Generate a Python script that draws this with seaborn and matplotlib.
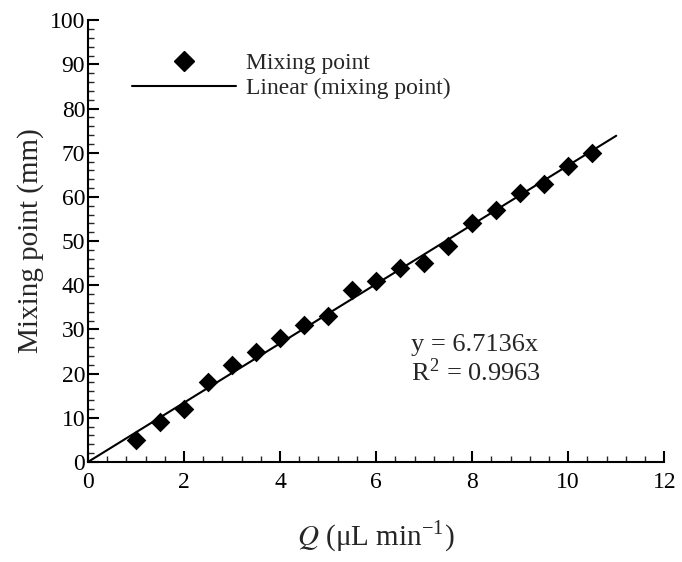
import numpy as np
import pandas as pd
import matplotlib
matplotlib.use("Agg")
import matplotlib.pyplot as plt
import seaborn as sns
from matplotlib.ticker import MultipleLocator
from matplotlib.lines import Line2D

# flow rate (uL/min) and measured mixing point (mm)
flow_rate = [1.0, 1.5, 2.0, 2.5, 3.0, 3.5, 4.0, 4.5, 5.0, 5.5,
             6.0, 6.5, 7.0, 7.5, 8.0, 8.5, 9.0, 9.5, 10.0, 10.5]
mixing_point = [5, 9, 12, 18, 22, 25, 28, 31, 33, 39,
                41, 44, 45, 49, 54, 57, 61, 63, 67, 70]
slope = 6.7136
r_squared = 0.9963
fit_x = [0.0, 11.0]

sns.set_theme(style="ticks")
plt.rcParams["font.family"] = ["Liberation Serif", "DejaVu Serif"]
plt.rcParams["mathtext.fontset"] = "stix"

df = pd.DataFrame({"Q": flow_rate, "mix": mixing_point})
fit_df = pd.DataFrame({"Q": fit_x, "mix": [slope * v for v in fit_x]})

fig = plt.figure(figsize=(6.82, 5.62), dpi=100)
ax = fig.add_axes([0.129, 0.178, 0.845, 0.786])

sns.lineplot(data=fit_df, x="Q", y="mix", color="black", linewidth=1.5, ax=ax)
sns.scatterplot(data=df, x="Q", y="mix", marker="D", s=100, color="black",
                edgecolor="black", linewidth=0, ax=ax, zorder=3)

ax.set_xlim(0, 12)
ax.set_ylim(0, 100)
ax.xaxis.set_major_locator(MultipleLocator(2))
ax.xaxis.set_minor_locator(MultipleLocator(0.4))
ax.yaxis.set_major_locator(MultipleLocator(10))
ax.yaxis.set_minor_locator(MultipleLocator(2))
ax.tick_params(which="major", direction="in", length=8, width=1.5,
               labelsize=17, pad=2, colors="black")
ax.tick_params(axis="x", which="major", pad=7)
ax.tick_params(which="minor", direction="in", length=4, width=1.0)
for s in ["top", "right"]:
    ax.spines[s].set_visible(False)
for s in ["left", "bottom"]:
    ax.spines[s].set_linewidth(1.5)
    ax.spines[s].set_color("black")

ax.set_xlabel(r"$Q$ (μL min$^{\mathregular{-1}}$)", fontsize=21, labelpad=19)
ax.set_ylabel("Mixing point (mm)", fontsize=21, labelpad=4)

ax.text(6.73, 26.5, f"y = {slope}x", fontsize=19, va="center")
ax.text(6.73, 20.4, f"R$^{{\\mathregular{{2}}}}$ = {r_squared}", fontsize=19, va="center")

handles = [Line2D([], [], linestyle="none", marker="D", markersize=10, color="black"),
           Line2D([], [], color="black", linewidth=1.5)]
ax.legend(handles, ["Mixing point", "Linear (mixing point)"], frameon=False,
          fontsize=17, handlelength=4.4, handletextpad=0.4, labelspacing=0.15,
          loc="upper left", bbox_to_anchor=(0.04, 0.975))

fig.savefig("out.png", dpi=100)
